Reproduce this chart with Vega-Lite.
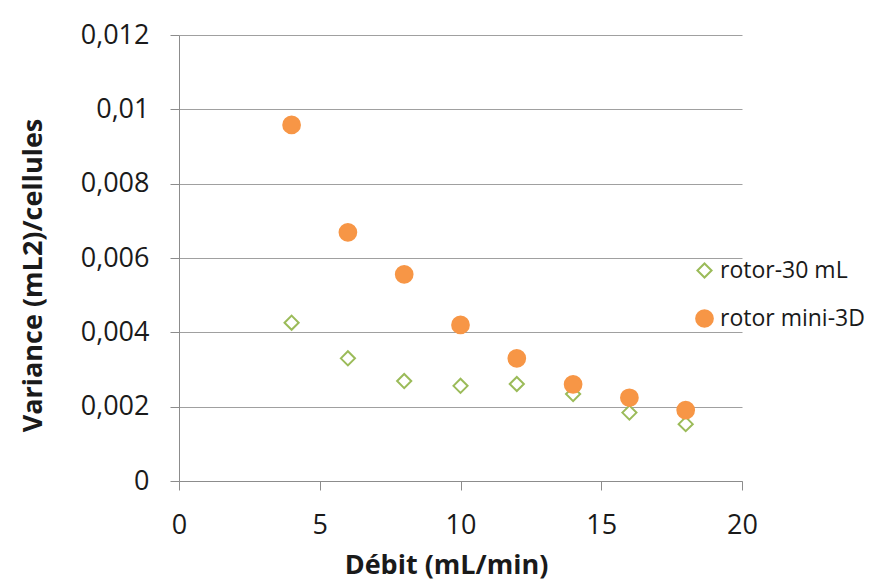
{
  "$schema": "https://vega.github.io/schema/vega-lite/v6.json",
  "autosize": {"type": "none"},
  "padding": {"left": 179, "top": 35, "right": 142, "bottom": 102},
  "width": 563,
  "height": 446,
  "background": "white",
  "data": {
    "values": [
      {"debit": 4, "variance": 0.00426, "serie": "rotor-30 mL"},
      {"debit": 6, "variance": 0.0033, "serie": "rotor-30 mL"},
      {"debit": 8, "variance": 0.00269, "serie": "rotor-30 mL"},
      {"debit": 10, "variance": 0.00256, "serie": "rotor-30 mL"},
      {"debit": 12, "variance": 0.00261, "serie": "rotor-30 mL"},
      {"debit": 14, "variance": 0.00234, "serie": "rotor-30 mL"},
      {"debit": 16, "variance": 0.00184, "serie": "rotor-30 mL"},
      {"debit": 18, "variance": 0.00153, "serie": "rotor-30 mL"},
      {"debit": 4, "variance": 0.00958, "serie": "rotor mini-3D"},
      {"debit": 6, "variance": 0.00669, "serie": "rotor mini-3D"},
      {"debit": 8, "variance": 0.00556, "serie": "rotor mini-3D"},
      {"debit": 10, "variance": 0.0042, "serie": "rotor mini-3D"},
      {"debit": 12, "variance": 0.0033, "serie": "rotor mini-3D"},
      {"debit": 14, "variance": 0.0026, "serie": "rotor mini-3D"},
      {"debit": 16, "variance": 0.00224, "serie": "rotor mini-3D"},
      {"debit": 18, "variance": 0.00191, "serie": "rotor mini-3D"}
    ]
  },
  "mark": {"type": "point", "strokeWidth": 2, "opacity": 1, "filled": false},
  "encoding": {
    "x": {
      "field": "debit", "type": "quantitative",
      "scale": {"domain": [0, 20], "nice": false},
      "axis": {
        "title": "Débit (mL/min)", "values": [0, 5, 10, 15, 20], "grid": false,
        "labelFlush": false, "tickSize": 9, "labelPadding": 22, "titlePadding": 14,
        "titleX": 267, "titleAnchor": "middle"
      }
    },
    "y": {
      "field": "variance", "type": "quantitative",
      "scale": {"domain": [0, 0.012], "nice": false},
      "axis": {
        "title": "Variance (mL2)/cellules",
        "values": [0, 0.002, 0.004, 0.006, 0.008, 0.01, 0.012],
        "labelExpr": "replace(format(datum.value, '~g'), '.', ',')",
        "grid": true, "tickSize": 9, "labelPadding": 21, "titlePadding": 33,
        "titleY": 240, "titleAnchor": "middle"
      }
    },
    "shape": {
      "field": "serie", "type": "nominal",
      "scale": {"domain": ["rotor-30 mL", "rotor mini-3D"], "range": ["diamond", "circle"]},
      "legend": {
        "title": null, "orient": "none", "legendX": 514, "legendY": 224,
        "labelFontSize": 23, "labelFont": "Open Sans", "labelColor": "#1a1a1a",
        "rowPadding": 23, "labelOffset": 4, "symbolStrokeWidth": 2
      }
    },
    "stroke": {
      "field": "serie", "type": "nominal",
      "scale": {"domain": ["rotor-30 mL", "rotor mini-3D"], "range": ["#9BBB59", "#F79646"]}
    },
    "fill": {
      "field": "serie", "type": "nominal",
      "scale": {"domain": ["rotor-30 mL", "rotor mini-3D"], "range": ["#FFFFFF", "#F79646"]}
    },
    "size": {
      "field": "serie", "type": "nominal",
      "scale": {"domain": ["rotor-30 mL", "rotor mini-3D"], "range": [200, 280]}
    }
  },
  "config": {
    "view": {"stroke": null},
    "font": "Open Sans",
    "axis": {
      "domainColor": "#8c8c8c", "tickColor": "#8c8c8c", "gridColor": "#a0a0a0",
      "labelFontSize": 27, "labelColor": "#1a1a1a", "labelFont": "Open Sans",
      "titleFontSize": 27, "titleFontWeight": "bold", "titleColor": "#1a1a1a", "titleFont": "Open Sans"
    }
  }
}
